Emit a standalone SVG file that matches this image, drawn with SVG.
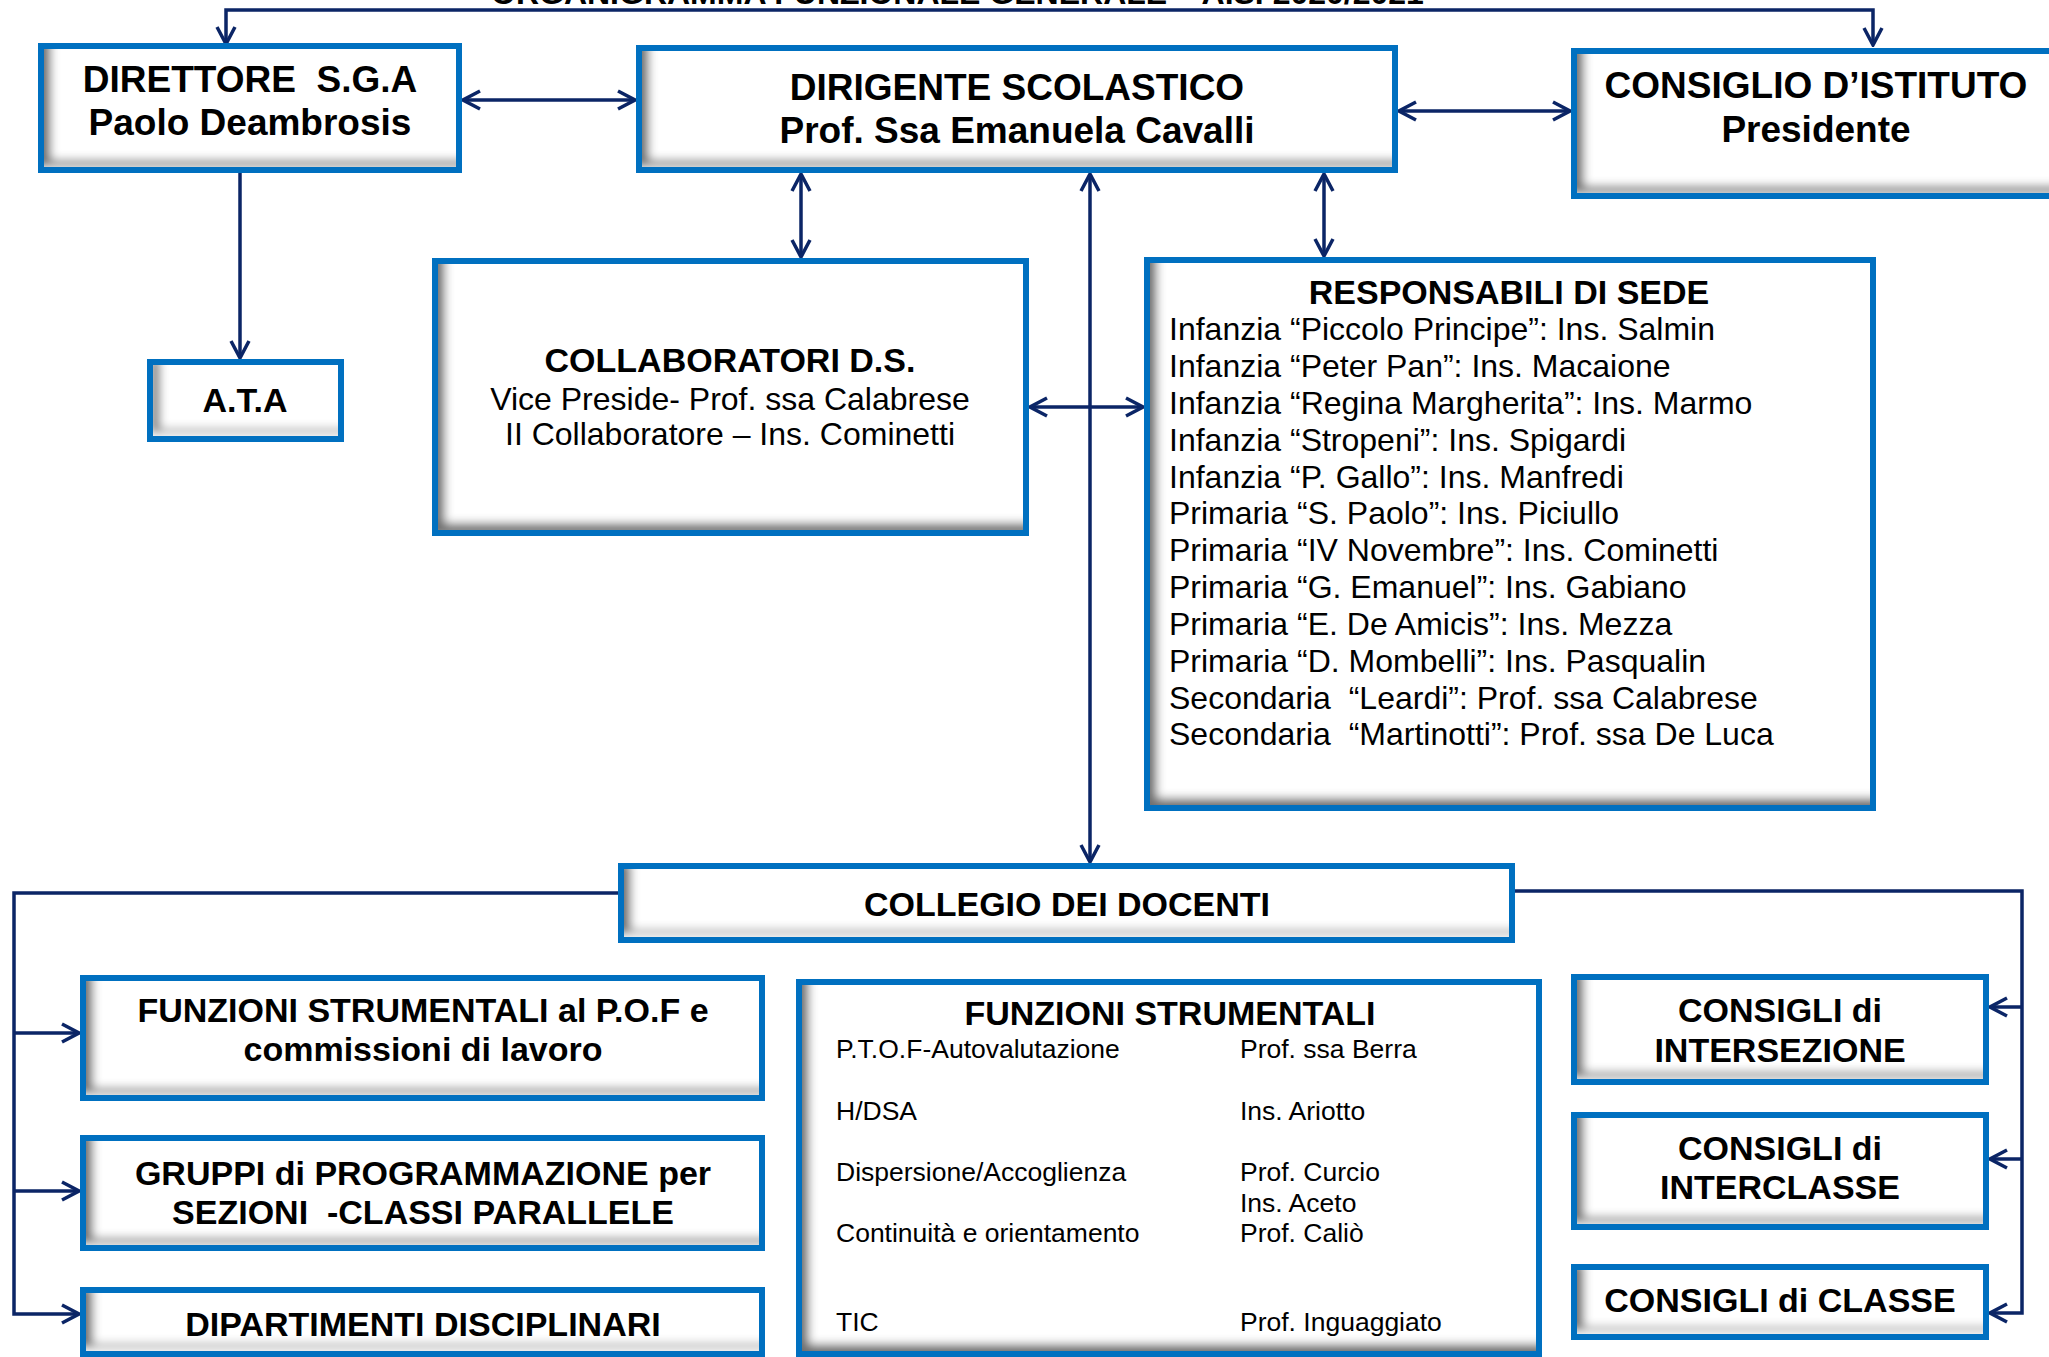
<svg xmlns="http://www.w3.org/2000/svg" width="2049" height="1357" viewBox="0 0 2049 1357">
<style>
.bg{fill:#ffffff}
.box{fill:#ffffff;filter:url(#ins)}
.bd{fill:none;stroke:#0070c0;stroke-width:6}
.ln{fill:none;stroke:#0b2566;stroke-width:3.5}
.h{font-family:"Liberation Sans",Arial,sans-serif;font-weight:bold;fill:#000;text-anchor:middle;white-space:pre}
.h37{font-size:37px}
.h34{font-size:34px}
.t{font-family:"Liberation Sans",Arial,sans-serif;font-size:32px;fill:#000;white-space:pre}
.tc{text-anchor:middle}
.s{font-family:"Liberation Sans",Arial,sans-serif;font-size:26.5px;fill:#000;white-space:pre}
</style>
<defs>
<filter id="ins" x="-5%" y="-5%" width="110%" height="110%">
<feComponentTransfer in="SourceAlpha" result="inv"><feFuncA type="table" tableValues="1 0"/></feComponentTransfer>
<feOffset in="inv" dx="10" dy="-10" result="off"/>
<feGaussianBlur in="off" stdDeviation="5" result="blur"/>
<feFlood flood-color="#6f6f6f" result="col"/>
<feComposite in="col" in2="blur" operator="in" result="sh"/>
<feComposite in="sh" in2="SourceAlpha" operator="in" result="shin"/>
<feMerge><feMergeNode in="SourceGraphic"/><feMergeNode in="shin"/></feMerge>
</filter>
<marker id="arr" viewBox="0 0 22 22" refX="20" refY="11" markerWidth="22" markerHeight="22" markerUnits="userSpaceOnUse" orient="auto-start-reverse">
<path d="M3,2 L20,11 L3,20" fill="none" stroke="#0b2566" stroke-width="3.5" stroke-linejoin="miter"/>
</marker>
</defs>
<rect class="bg" x="0" y="0" width="2049" height="1357"/>

<text class="h" x="491" y="4" style="text-anchor:start;font-size:32px">ORGANIGRAMMA FUNZIONALE GENERALE – A.S. 2020/2021</text>

<g id="connectors">
<path class="ln" d="M226,44 V10 H1873 V45" marker-start="url(#arr)" marker-end="url(#arr)"/>
<path class="ln" d="M463,100 H635" marker-start="url(#arr)" marker-end="url(#arr)"/>
<path class="ln" d="M1399,111 H1570" marker-start="url(#arr)" marker-end="url(#arr)"/>
<path class="ln" d="M240,173 V358" marker-end="url(#arr)"/>
<path class="ln" d="M801,174 V257" marker-start="url(#arr)" marker-end="url(#arr)"/>
<path class="ln" d="M1090,174 V862" marker-start="url(#arr)" marker-end="url(#arr)"/>
<path class="ln" d="M1324,174 V256" marker-start="url(#arr)" marker-end="url(#arr)"/>
<path class="ln" d="M1030,407 H1143" marker-start="url(#arr)" marker-end="url(#arr)"/>
<path class="ln" d="M618,893 H14 V1314 H79" marker-end="url(#arr)"/>
<path class="ln" d="M14,1033 H79" marker-end="url(#arr)"/>
<path class="ln" d="M14,1191 H79" marker-end="url(#arr)"/>
<path class="ln" d="M1515,891 H2022 V1313 H1990" marker-end="url(#arr)"/>
<path class="ln" d="M2022,1007 H1990" marker-end="url(#arr)"/>
<path class="ln" d="M2022,1159 H1990" marker-end="url(#arr)"/>
</g>

<g id="direttore">
<rect class="box" x="41" y="46" width="418" height="124"/>
<rect class="bd" x="41" y="46" width="418" height="124"/>
<text class="h h37" x="250" y="92">DIRETTORE  S.G.A</text>
<text class="h h37" x="250" y="135">Paolo Deambrosis</text>
</g>

<g id="dirigente">
<rect class="box" x="639" y="48" width="756" height="122"/>
<rect class="bd" x="639" y="48" width="756" height="122"/>
<text class="h h37" x="1017" y="100">DIRIGENTE SCOLASTICO</text>
<text class="h h37" x="1017" y="143">Prof. Ssa Emanuela Cavalli</text>
</g>

<g id="consiglio-istituto">
<rect class="box" x="1574" y="51" width="500" height="145"/>
<rect class="bd" x="1574" y="51" width="500" height="145"/>
<text class="h h37" x="1816" y="98">CONSIGLIO D’ISTITUTO</text>
<text class="h h37" x="1816" y="142">Presidente</text>
</g>

<g id="ata">
<rect class="box" x="150" y="362" width="191" height="77"/>
<rect class="bd" x="150" y="362" width="191" height="77"/>
<text class="h h34" x="245" y="412">A.T.A</text>
</g>

<g id="collaboratori">
<rect class="box" x="435" y="261" width="591" height="272"/>
<rect class="bd" x="435" y="261" width="591" height="272"/>
<text class="h h34" x="730" y="372">COLLABORATORI D.S.</text>
<text class="t tc" x="730" y="410">Vice Preside- Prof. ssa Calabrese</text>
<text class="t tc" x="730" y="445">II Collaboratore – Ins. Cominetti</text>
</g>

<g id="responsabili">
<rect class="box" x="1147" y="260" width="726" height="548"/>
<rect class="bd" x="1147" y="260" width="726" height="548"/>
<text class="h h34" x="1509" y="304">RESPONSABILI DI SEDE</text>
<text class="t" x="1169" y="340">Infanzia “Piccolo Principe”: Ins. Salmin</text>
<text class="t" x="1169" y="377">Infanzia “Peter Pan”: Ins. Macaione</text>
<text class="t" x="1169" y="414">Infanzia “Regina Margherita”: Ins. Marmo</text>
<text class="t" x="1169" y="451">Infanzia “Stropeni”: Ins. Spigardi</text>
<text class="t" x="1169" y="488">Infanzia “P. Gallo”: Ins. Manfredi</text>
<text class="t" x="1169" y="524">Primaria “S. Paolo”: Ins. Piciullo</text>
<text class="t" x="1169" y="561">Primaria “IV Novembre”: Ins. Cominetti</text>
<text class="t" x="1169" y="598">Primaria “G. Emanuel”: Ins. Gabiano</text>
<text class="t" x="1169" y="635">Primaria “E. De Amicis”: Ins. Mezza</text>
<text class="t" x="1169" y="672">Primaria “D. Mombelli”: Ins. Pasqualin</text>
<text class="t" x="1169" y="709">Secondaria  “Leardi”: Prof. ssa Calabrese</text>
<text class="t" x="1169" y="745">Secondaria  “Martinotti”: Prof. ssa De Luca</text>
</g>

<g id="collegio">
<rect class="box" x="621" y="866" width="891" height="74"/>
<rect class="bd" x="621" y="866" width="891" height="74"/>
<text class="h h34" x="1067" y="916">COLLEGIO DEI DOCENTI</text>
</g>

<g id="funzioni-pof">
<rect class="box" x="83" y="978" width="679" height="120"/>
<rect class="bd" x="83" y="978" width="679" height="120"/>
<text class="h h34" x="423" y="1022">FUNZIONI STRUMENTALI al P.O.F e</text>
<text class="h h34" x="423" y="1061">commissioni di lavoro</text>
</g>

<g id="gruppi">
<rect class="box" x="83" y="1138" width="679" height="110"/>
<rect class="bd" x="83" y="1138" width="679" height="110"/>
<text class="h h34" x="423" y="1185">GRUPPI di PROGRAMMAZIONE per</text>
<text class="h h34" x="423" y="1224">SEZIONI  -CLASSI PARALLELE</text>
</g>

<g id="dipartimenti">
<rect class="box" x="83" y="1290" width="679" height="64"/>
<rect class="bd" x="83" y="1290" width="679" height="64"/>
<text class="h h34" x="423" y="1336">DIPARTIMENTI DISCIPLINARI</text>
</g>

<g id="funzioni-strumentali">
<rect class="box" x="799" y="982" width="740" height="372"/>
<rect class="bd" x="799" y="982" width="740" height="372"/>
<text class="h h34" x="1170" y="1025">FUNZIONI STRUMENTALI</text>
<text class="s" x="836" y="1058">P.T.O.F-Autovalutazione</text>
<text class="s" x="1240" y="1058">Prof. ssa Berra</text>
<text class="s" x="836" y="1120">H/DSA</text>
<text class="s" x="1240" y="1120">Ins. Ariotto</text>
<text class="s" x="836" y="1181">Dispersione/Accoglienza</text>
<text class="s" x="1240" y="1181">Prof. Curcio</text>
<text class="s" x="1240" y="1212">Ins. Aceto</text>
<text class="s" x="836" y="1242">Continuità e orientamento</text>
<text class="s" x="1240" y="1242">Prof. Caliò</text>
<text class="s" x="836" y="1331">TIC</text>
<text class="s" x="1240" y="1331">Prof. Inguaggiato</text>
</g>

<g id="consigli-intersezione">
<rect class="box" x="1574" y="977" width="412" height="105"/>
<rect class="bd" x="1574" y="977" width="412" height="105"/>
<text class="h h34" x="1780" y="1022">CONSIGLI di</text>
<text class="h h34" x="1780" y="1062">INTERSEZIONE</text>
</g>

<g id="consigli-interclasse">
<rect class="box" x="1574" y="1115" width="412" height="112"/>
<rect class="bd" x="1574" y="1115" width="412" height="112"/>
<text class="h h34" x="1780" y="1160">CONSIGLI di</text>
<text class="h h34" x="1780" y="1199">INTERCLASSE</text>
</g>

<g id="consigli-classe">
<rect class="box" x="1574" y="1267" width="412" height="70"/>
<rect class="bd" x="1574" y="1267" width="412" height="70"/>
<text class="h h34" x="1780" y="1312">CONSIGLI di CLASSE</text>
</g>
</svg>
